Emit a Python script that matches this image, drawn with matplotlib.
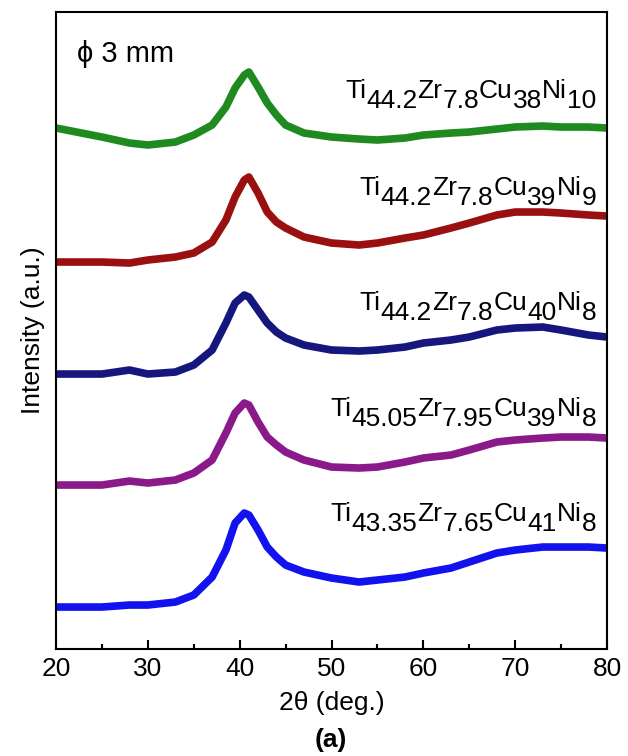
import matplotlib
matplotlib.use('Agg')
import matplotlib.pyplot as plt
from matplotlib.ticker import MultipleLocator

# ----- DATA (intensity in a.u.) ----- #
two_theta = [20, 25, 28, 30, 33, 35, 37, 38.5, 39.5, 40.5, 41, 42, 43, 44, 45,
             47, 50, 53, 55, 58, 60, 63, 65, 68, 70, 73, 75, 78, 80]

i_cu38ni10 = [521, 512, 506, 504, 507, 514, 524, 542, 561, 574, 577, 562, 546, 534, 524,
              516, 512, 510, 509, 511, 514, 516, 517, 520, 522, 523, 522, 522, 521]
i_cu39ni9 = [387, 387, 386, 389, 392, 396, 407, 429, 452, 469, 472, 456, 437, 427, 421,
             412, 406, 404, 406, 411, 414, 421, 426, 434, 437, 437, 436, 434, 433]
i_cu40ni8 = [275, 275, 279, 275, 277, 284, 299, 326, 346, 354, 352, 339, 326, 317, 311,
             304, 299, 298, 299, 302, 306, 309, 312, 319, 321, 322, 319, 314, 312]
i_ti4505 = [164, 164, 168, 166, 169, 176, 189, 216, 236, 246, 244, 227, 212, 204, 197,
            189, 182, 181, 182, 187, 191, 194, 199, 207, 209, 211, 212, 212, 211]
i_ti4335 = [42, 42, 44, 44, 47, 54, 72, 99, 126, 136, 134, 119, 102, 92, 84,
            77, 71, 67, 69, 72, 76, 81, 87, 96, 99, 102, 102, 102, 101]

# formula pieces: (text, is_subscript)
names = [
    [('Ti', 0), ('44.2', 1), ('Zr', 0), ('7.8', 1), ('Cu', 0), ('38', 1), ('Ni', 0), ('10', 1)],
    [('Ti', 0), ('44.2', 1), ('Zr', 0), ('7.8', 1), ('Cu', 0), ('39', 1), ('Ni', 0), ('9', 1)],
    [('Ti', 0), ('44.2', 1), ('Zr', 0), ('7.8', 1), ('Cu', 0), ('40', 1), ('Ni', 0), ('8', 1)],
    [('Ti', 0), ('45.05', 1), ('Zr', 0), ('7.95', 1), ('Cu', 0), ('39', 1), ('Ni', 0), ('8', 1)],
    [('Ti', 0), ('43.35', 1), ('Zr', 0), ('7.65', 1), ('Cu', 0), ('41', 1), ('Ni', 0), ('8', 1)],
]
label_y = [551, 454, 339, 233, 128]
series = [i_cu38ni10, i_cu39ni9, i_cu40ni8, i_ti4505, i_ti4335]
colors = ['#1f8a1f', '#9a1010', '#16167f', '#8a1a8a', '#1212ee']

plt.rcParams['font.family'] = ['Liberation Sans', 'DejaVu Sans']

fig = plt.figure(figsize=(6.28, 7.56), dpi=100)
ax = fig.add_axes([0.0892, 0.1415, 0.8774, 0.8426])

for vals, c in zip(series, colors):
    ax.plot(two_theta, vals, color=c, lw=5.5, solid_joinstyle='round')


def formula(parts, x, y, size=19, drop=7.0):
    # build right to left so the label ends at x
    prev = None
    prev_sub = 0
    for txt, sub in reversed(parts):
        if prev is None:
            t = ax.annotate(txt, xy=(x, y), xycoords='data',
                            xytext=(0, -drop if sub else 0), textcoords='offset points',
                            ha='right', va='baseline', fontsize=size)
        else:
            dy = 0
            if sub and not prev_sub:
                dy = -drop
            elif prev_sub and not sub:
                dy = drop
            t = ax.annotate(txt, xy=(0, 0), xycoords=prev,
                            xytext=(0, dy), textcoords='offset points',
                            ha='right', va='bottom', fontsize=size)
        prev = t
        prev_sub = sub


for parts, ly in zip(names, label_y):
    formula(parts, 78.8, ly)

ax.text(22.3, 587, '\u03d5 3 mm', fontsize=21, va='baseline')

ax.set_xlim(20, 80)
ax.set_ylim(0, 637)
ax.xaxis.set_major_locator(MultipleLocator(10))
ax.xaxis.set_minor_locator(MultipleLocator(5))
ax.tick_params(axis='x', which='major', direction='in', length=6.5, width=1.5,
               labelsize=19, pad=6)
ax.tick_params(axis='x', which='minor', direction='in', length=3.3, width=1.5)
ax.set_yticks([])
for s in ax.spines.values():
    s.set_linewidth(1.5)

ax.set_xlabel('2\u03b8 (deg.)', fontsize=19, labelpad=7)
ax.set_ylabel('Intensity (a.u.)', fontsize=19, labelpad=8)
fig.text(0.527, 0.021, '(a)', fontsize=19, fontweight='bold', ha='center', va='center')

fig.savefig('out.png', dpi=100)
